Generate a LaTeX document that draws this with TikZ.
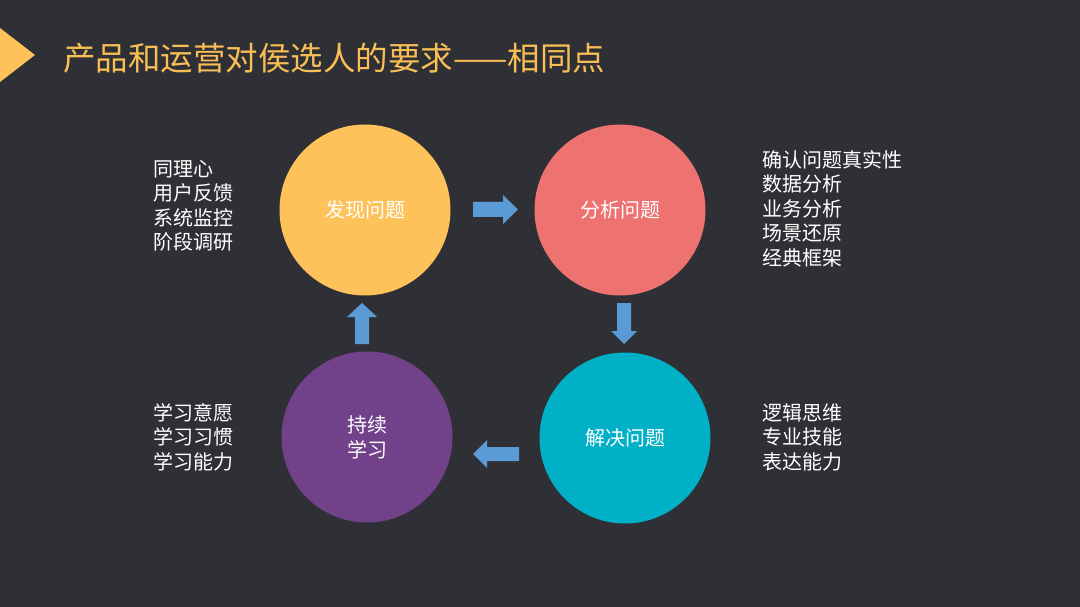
\documentclass[tikz,border=0pt]{standalone}
\usepackage{fontspec}
\setmainfont{Noto Sans CJK SC}
\definecolor{bg}{HTML}{2F3035}
\definecolor{ttl}{HTML}{F9BE55}
\definecolor{cy}{HTML}{FDC25A}
\definecolor{cr}{HTML}{EE7270}
\definecolor{ct}{HTML}{00B0C6}
\definecolor{cp}{HTML}{71428A}
\definecolor{arr}{HTML}{5B9BD5}
\begin{document}
\begin{tikzpicture}[x=1pt,y=-1pt,
  circ/.style={circle,minimum size=171pt,inner sep=0pt,text=white,font=\fontsize{20}{25}\selectfont,align=center},
  lst/.style={anchor=north west,text=white,font=\fontsize{20}{24.5}\selectfont,align=left,inner sep=0pt},
  blk/.style={fill=arr,draw=none}]
\fill[bg] (0,0) rectangle (1080,607);
\useasboundingbox (0,0) rectangle (1080,607);
% title marker
\fill[cy] (0,28) -- (35,55) -- (0,82) -- cycle;
\node[anchor=west,text=ttl,inner sep=0pt,font=\fontsize{32.5}{36}\selectfont] (title) at (63,58) {产品和运营对侯选人的要求——相同点};
% circles
\node[circ,fill=cy] (find) at (365,210) {发现问题};
\node[circ,fill=cr] (anal) at (620,210) {分析问题};
\node[circ,fill=ct] (solve) at (625,438) {解决问题};
\node[circ,fill=cp] (learn) at (367,437) {持续\\学习};
% block arrows
\fill[blk] (473,202) -- (503,202) -- (503,195) -- (518,209.5) -- (503,224) -- (503,217) -- (473,217) -- cycle;
\fill[blk] (617,303) -- (631,303) -- (631,331) -- (637,331) -- (624,344) -- (611,331) -- (617,331) -- cycle;
\fill[blk] (519,447) -- (487,447) -- (487,440) -- (473,454) -- (487,468) -- (487,461) -- (519,461) -- cycle;
\fill[blk] (355,344) -- (369,344) -- (369,317) -- (377,317) -- (362,303) -- (347,317) -- (355,317) -- cycle;
% lists
\node[lst] (l1) at (153,160) {同理心\\用户反馈\\系统监控\\阶段调研};
\node[lst] (l2) at (762,150) {确认问题真实性\\数据分析\\业务分析\\场景还原\\经典框架};
\node[lst] (l3) at (762,403) {逻辑思维\\专业技能\\表达能力};
\node[lst] (l4) at (153,403) {学习意愿\\学习习惯\\学习能力};
\end{tikzpicture}
\end{document}
